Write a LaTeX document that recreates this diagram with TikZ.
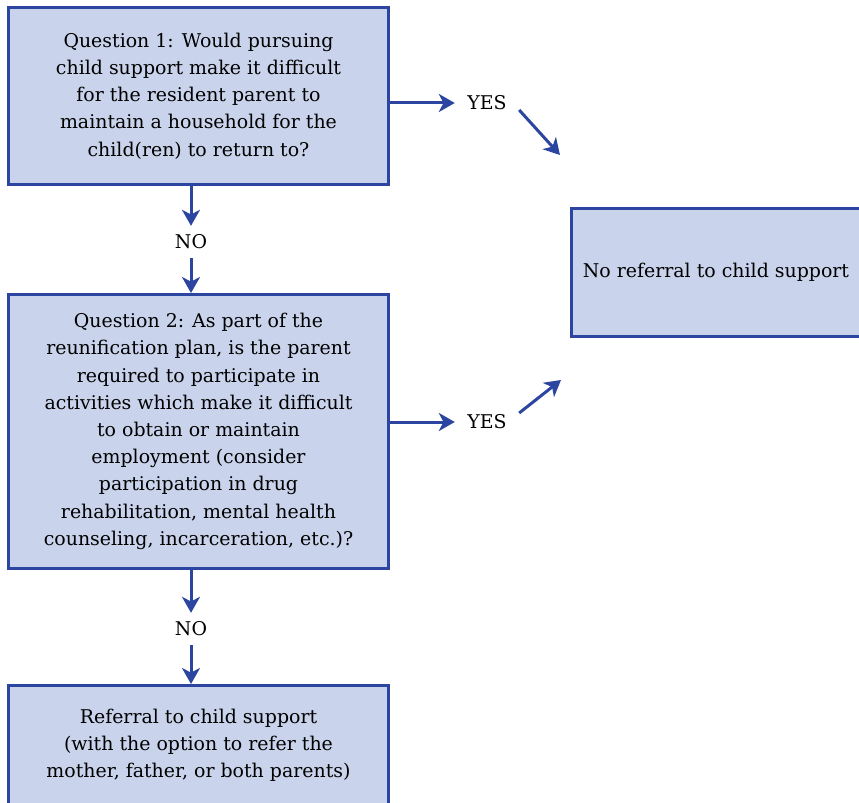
\documentclass[tikz,border=0pt]{standalone}
\usepackage{fontspec}
\setmainfont{DejaVu Serif}
\newcommand*{\flowfont}{\fontsize{14.2pt}{20.4pt}\selectfont}
\definecolor{boxline}{RGB}{43,69,161}
\definecolor{boxfill}{RGB}{201,212,236}
\usepackage{tikz}
\usetikzlibrary{arrows.meta}
\tikzstyle{base}=[x=0.75pt, y=-0.75pt, line width=2.25pt]
\tikzstyle{qbox}=[draw=boxline, fill=boxfill, align=center, inner sep=0pt, minimum width=285pt]
\tikzstyle{answer}=[inner sep=0pt, outer xsep=9.4pt, outer ysep=6.75pt]
\tikzstyle{flow}=[draw=boxline, -{Stealth[length=12pt, width=13.5pt, inset=3.5pt]}]

\begin{document}
\begin{tikzpicture}[base]
    \flowfont
        \path [use as bounding box] (0,0) rectangle (859,802);
        \clip (0,0) rectangle (859,802);
        % boxes
        \node [qbox, minimum height=132.75pt] (q1) at (198.5,96)
            {Question 1: Would pursuing\\ child support make it difficult\\ for the resident parent to\\ maintain a household for the\\ child(ren) to return to?};
        \node [qbox, minimum height=205.5pt] (q2) at (198.5,431.5)
            {Question 2: As part of the\\ reunification plan, is the parent\\ required to participate in\\ activities which make it difficult\\ to obtain or maintain\\ employment (consider\\ participation in drug\\ rehabilitation, mental health\\ counseling, incarceration, etc.)?};
        \node [qbox, minimum height=89.25pt] (ref) at (198.5,745)
            {Referral to child support\\ (with the option to refer the\\ mother, father, or both parents)};
        \node [qbox, minimum width=216.75pt, minimum height=96pt] (noref) at (716,272.5)
            {No referral to child support};
        % answers
        \node [answer] (yes1) at (487,103) {YES};
        \node [answer] (yes2) at (487,422) {YES};
        \node [answer] (no1) at (191,242) {NO};
        \node [answer] (no2) at (191,629) {NO};
        \coordinate (end1) at (560,155);
        \coordinate (end2) at (561,380);
        % arrows
        \draw [flow] (q1.east |- yes1) -- (yes1.west);
        \draw [flow] ([yshift=-5.25pt]yes1.east) -- (end1);
        \draw [flow] (q2.east |- yes2) -- (yes2.west);
        \draw [flow] ([yshift=6.75pt]yes2.east) -- (end2);
        \draw [flow] (q1.south -| no1) -- (no1.north);
        \draw [flow] (no1.south) -- (no1 |- q2.north);
        \draw [flow] (q2.south -| no2) -- (no2.north);
        \draw [flow] (no2.south) -- (no2 |- ref.north);
    \end{tikzpicture}
\end{document}
